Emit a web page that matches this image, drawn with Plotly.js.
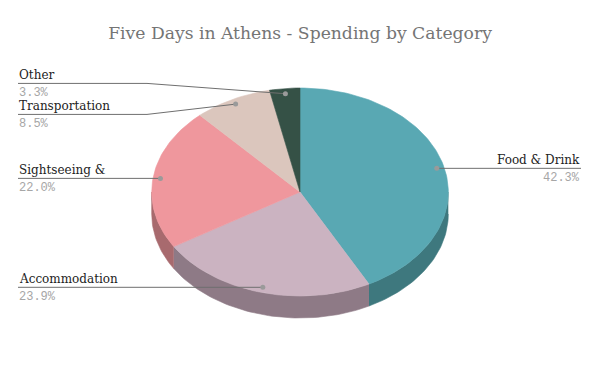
<!DOCTYPE html>
<html>
<head>
<meta charset="utf-8">
<script src="https://cdn.plot.ly/plotly-3.0.1.min.js"></script>
<style>html,body{margin:0;padding:0;background:#fff;}#chart{width:600px;height:371px;}</style>
</head>
<body>
<div id="chart"></div>
<script>
// ---- data ----
const categories = ['Food & Drink', 'Accommodation', 'Sightseeing &', 'Transportation', 'Other'];
const values = [42.3, 23.9, 22.0, 8.5, 3.3];
const chartTitle = 'Five Days in Athens - Spending by Category';

// ---- styles ----
const topColors = ['#59A8B3', '#CBB3C1', '#EF979D', '#DBC6BD', '#355146'];
const sideColors = ['#3E787E', '#8E7A86', '#A86A6E', '#9A8B84', '#253A31'];

// ---- geometry (layout constants) ----
const G = {cx: 300, cy: 192, rx: 148.3, ry: 104, depth: 22, dotF: 0.95,
           leftX: 18, rightX: 581, bendLeft: 147, spacing: 31};

function pt(deg, f, dy) {
  const r = deg * Math.PI / 180;
  return [G.cx + G.rx * f * Math.sin(r), G.cy - G.ry * f * Math.cos(r) + (dy || 0)];
}

const total = values.reduce((a, b) => a + b, 0);
const slices = [];
let acc = 0;
values.forEach((v, i) => {
  const a = acc / total * 360;
  acc += v;
  const b = acc / total * 360;
  slices.push({i, a, b, mid: (a + b) / 2});
});

const traces = [];
// side walls (visible front half: 90..270 deg)
slices.forEach(s => {
  const a = Math.max(s.a, 90), b = Math.min(s.b, 270);
  if (b <= a) return;
  const xs = [], ys = [];
  const n = Math.max(4, Math.ceil((b - a) / 1.5));
  for (let k = 0; k <= n; k++) { const p = pt(a + (b - a) * k / n, 1, 0); xs.push(p[0]); ys.push(p[1]); }
  for (let k = n; k >= 0; k--) { const p = pt(a + (b - a) * k / n, 1, G.depth); xs.push(p[0]); ys.push(p[1]); }
  traces.push({type: 'scatter', mode: 'lines', x: xs, y: ys, fill: 'toself',
    fillcolor: sideColors[s.i], line: {width: 0.6, color: sideColors[s.i]}, hoverinfo: 'skip'});
});
// top faces
slices.forEach(s => {
  const xs = [G.cx], ys = [G.cy];
  const n = Math.max(4, Math.ceil((s.b - s.a) / 1.5));
  for (let k = 0; k <= n; k++) { const p = pt(s.a + (s.b - s.a) * k / n, 1, 0); xs.push(p[0]); ys.push(p[1]); }
  xs.push(G.cx); ys.push(G.cy);
  traces.push({type: 'scatter', mode: 'lines', x: xs, y: ys, fill: 'toself',
    fillcolor: topColors[s.i], line: {width: 0.6, color: topColors[s.i]}, hoverinfo: 'skip'});
});

// label placement
slices.forEach(s => { const d = pt(s.mid, G.dotF, 0); s.dx = d[0]; s.dy = d[1]; s.side = s.mid < 180 ? 'right' : 'left'; s.ly = s.dy; });
['left', 'right'].forEach(side => {
  const arr = slices.filter(s => s.side === side).sort((p, q) => p.dy - q.dy);
  let groups = arr.map(s => [s]);
  let changed = true;
  while (changed) {
    changed = false;
    groups.forEach(g => { const m = g.reduce((t, s) => t + s.dy, 0) / g.length; g.forEach((s, k) => s.ly = m + (k - (g.length - 1) / 2) * G.spacing); });
    for (let k = 0; k < groups.length - 1; k++) {
      const g1 = groups[k], g2 = groups[k + 1];
      if (g2[0].ly - g1[g1.length - 1].ly < G.spacing) { groups.splice(k, 2, g1.concat(g2)); changed = true; break; }
    }
  }
});

const annotations = [];
slices.forEach(s => {
  const left = s.side === 'left';
  const endX = left ? G.leftX : G.rightX;
  let xs, ys;
  if (Math.abs(s.ly - s.dy) > 0.5) {
    const bx = left ? G.bendLeft : G.rightX - 129;
    xs = [s.dx, bx, endX]; ys = [s.dy, s.ly, s.ly];
  } else { xs = [s.dx, endX]; ys = [s.ly, s.ly]; }
  traces.push({type: 'scatter', mode: 'lines', x: xs, y: ys, line: {color: '#6f6f6f', width: 1}, hoverinfo: 'skip'});
  traces.push({type: 'scatter', mode: 'markers', x: [s.dx], y: [s.dy], marker: {color: '#9a9a9a', size: 5}, hoverinfo: 'skip'});
  annotations.push({x: endX, y: s.ly - 0.5, xref: 'x', yref: 'y', text: categories[s.i], showarrow: false,
    xanchor: left ? 'left' : 'right', yanchor: 'bottom', borderpad: 0,
    font: {family: 'DejaVu Serif', size: 12, color: '#222222'}});
  annotations.push({x: endX, y: s.ly + 1.5, xref: 'x', yref: 'y', text: values[s.i].toFixed(1) + '%', showarrow: false,
    xanchor: left ? 'left' : 'right', yanchor: 'top', borderpad: 0,
    font: {family: 'Liberation Mono', size: 12, color: '#a6a6a6'}});
});

const layout = {
  width: 600, height: 371,
  margin: {l: 0, r: 0, t: 0, b: 0},
  paper_bgcolor: '#ffffff', plot_bgcolor: '#ffffff',
  showlegend: false, hovermode: false,
  title: {text: chartTitle, x: 0.5, xanchor: 'center', y: 1 - 33 / 371, yref: 'container', yanchor: 'middle',
    font: {family: 'DejaVu Serif', size: 17.2, color: '#757575'}},
  xaxis: {range: [0, 600], visible: false, fixedrange: true},
  yaxis: {range: [371, 0], visible: false, fixedrange: true},
  annotations: annotations
};

Plotly.newPlot('chart', traces, layout, {displayModeBar: false, staticPlot: true});
</script>
</body>
</html>
